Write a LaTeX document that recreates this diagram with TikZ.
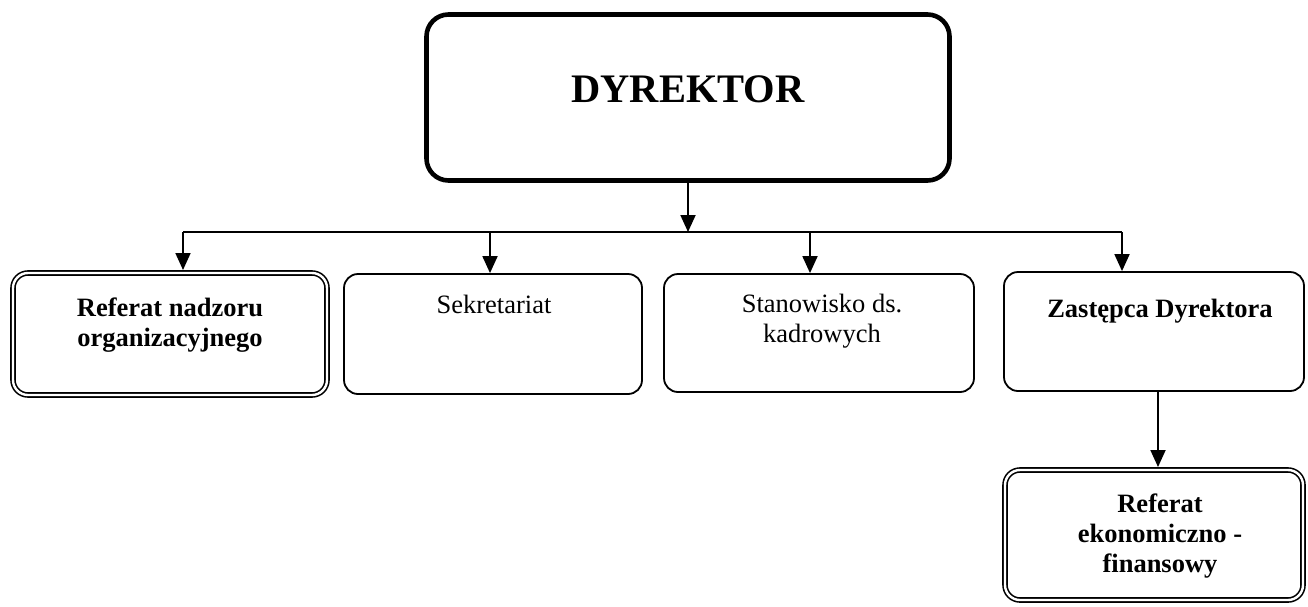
\documentclass[tikz,border=0pt]{standalone}
\usepackage{fontspec}
\setmainfont{Liberation Serif}
\usetikzlibrary{arrows.meta}
\begin{document}
\begin{tikzpicture}[x=1pt,y=-1pt,
  headbox/.style={draw, rounded corners=22pt, line width=4.6pt, inner sep=0pt},
  unitbox/.style={draw, rounded corners=14pt, line width=1.8pt, inner sep=0pt},
  dblbox/.style={draw, rounded corners=15pt, line width=1.6pt, double, double distance=2.4pt, inner sep=0pt, outer sep=3pt},
  txt/.style={font=\fontsize{26.5}{30}\selectfont, align=center, inner sep=0pt, anchor=north},
  txtb/.style={txt, font=\fontsize{26.5}{30}\selectfont\bfseries},
  link/.style={line width=1.8pt},
  arr/.style={link, -{Triangle[length=17pt,width=15pt]}}
]
\useasboundingbox (0,0) rectangle (1308,606);

% head of the organisation
\node[headbox, minimum width=523pt, minimum height=166pt] (dir) at (688,97.5) {};
\node[font=\fontsize{40.5}{44}\selectfont\bfseries, inner sep=0pt, anchor=base] (dirt) at (688,102) {DYREKTOR};

% units directly under the director
\node[dblbox, minimum width=314pt, minimum height=122pt] (b1) at (170,334) {};
\node[unitbox, minimum width=298pt, minimum height=120pt] (b2) at (493,334) {};
\node[unitbox, minimum width=310pt, minimum height=118pt] (b3) at (819,333) {};
\node[unitbox, minimum width=300pt, minimum height=119pt] (b4) at (1154,331.5) {};
% unit under the deputy
\node[dblbox, minimum width=298pt, minimum height=130pt] (b5) at (1154,535) {};

\node[txtb] (t1) at (170,297.5) {Referat nadzoru\\organizacyjnego};
\node[txt]  (t2) at (494,294.5) {Sekretariat};
\node[txt]  (t3) at (822,293.5) {Stanowisko ds.\\kadrowych};
\node[txtb] (t4) at (1160,298.5) {Zastępca Dyrektora};
\node[txtb] (t5) at (1160,493.5) {Referat\\ekonomiczno -\\finansowy};

% distribution line
\coordinate (busL) at (183,232);
\coordinate (busR) at (1122,232);
\coordinate (busM) at (688,232);
\draw[link] (busL) -- (busR);
\draw[arr] (dir.south) -- (busM);

\draw[arr] (busL) -- (busL |- b1.north);
\draw[arr] (490,232) -- (490,232 |- b2.north);
\draw[arr] (810,232) -- (810,232 |- b3.north);
\draw[arr] (busR) -- (busR |- b4.north);

\draw[arr] (1158,0 |- b4.south) -- (1158,0 |- b5.north);
\end{tikzpicture}
\end{document}
